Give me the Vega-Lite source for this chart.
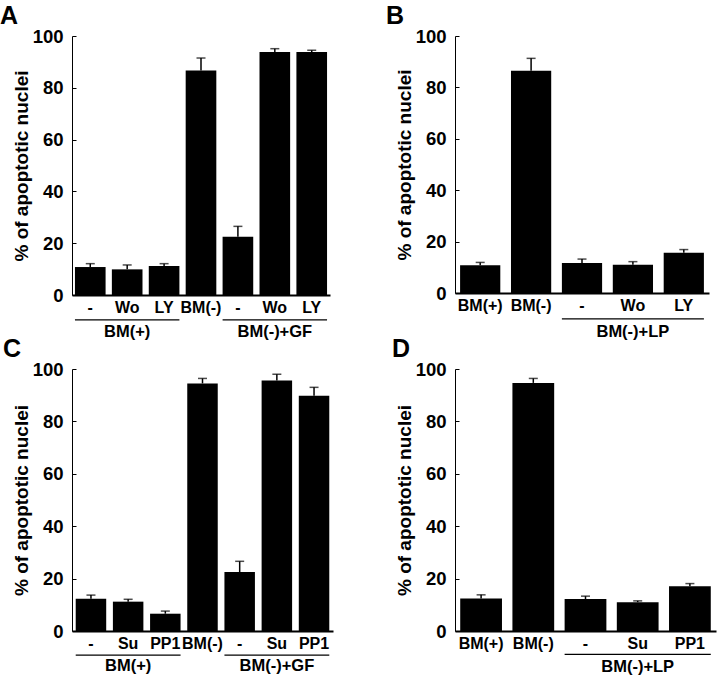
{
  "$schema": "https://vega.github.io/schema/vega-lite/v6.json",
  "background": "white",
  "padding": {"left": 0, "top": 4, "right": 5, "bottom": 5},
  "columns": 2,
  "spacing": {"row": 74, "column": 122},
  "bounds": "flush",
  "datasets": {
    "bars": [
      {"panel": "A", "key": "1|-", "value": 10.8, "upper": 12.1},
      {"panel": "A", "key": "2|Wo", "value": 9.9, "upper": 11.6},
      {"panel": "A", "key": "3|LY", "value": 11.2, "upper": 12.1},
      {"panel": "A", "key": "4|BM(-)", "value": 86.7, "upper": 91.5},
      {"panel": "A", "key": "5|-", "value": 22.5, "upper": 26.5},
      {"panel": "A", "key": "6|Wo", "value": 93.8, "upper": 95.1},
      {"panel": "A", "key": "7|LY", "value": 93.8, "upper": 94.5},
      {"panel": "B", "key": "1|BM(+)", "value": 10.8, "upper": 11.9},
      {"panel": "B", "key": "2|BM(-)", "value": 86.5, "upper": 91.3},
      {"panel": "B", "key": "3|-", "value": 11.7, "upper": 13.2},
      {"panel": "B", "key": "4|Wo", "value": 11.0, "upper": 12.2},
      {"panel": "B", "key": "5|LY", "value": 15.7, "upper": 16.9},
      {"panel": "C", "key": "1|-", "value": 12.3, "upper": 13.7},
      {"panel": "C", "key": "2|Su", "value": 11.2, "upper": 12.1},
      {"panel": "C", "key": "3|PP1", "value": 6.6, "upper": 7.6},
      {"panel": "C", "key": "4|BM(-)", "value": 94.5, "upper": 96.4},
      {"panel": "C", "key": "5|-", "value": 22.5, "upper": 26.6},
      {"panel": "C", "key": "6|Su", "value": 95.6, "upper": 98.0},
      {"panel": "C", "key": "7|PP1", "value": 89.8, "upper": 93.0},
      {"panel": "D", "key": "1|BM(+)", "value": 12.4, "upper": 13.8},
      {"panel": "D", "key": "2|BM(-)", "value": 94.7, "upper": 96.4},
      {"panel": "D", "key": "3|-", "value": 12.2, "upper": 13.3},
      {"panel": "D", "key": "4|Su", "value": 11.0, "upper": 11.5},
      {"panel": "D", "key": "5|PP1", "value": 17.1, "upper": 18.1}
    ],
    "groups": [
      {"panel": "A", "group": "BM(+)", "from": "1|-", "to": "3|LY", "mid": "2|Wo"},
      {"panel": "A", "group": "BM(-)+GF", "from": "5|-", "to": "7|LY", "mid": "6|Wo"},
      {"panel": "B", "group": "BM(-)+LP", "from": "3|-", "to": "5|LY", "mid": "4|Wo"},
      {"panel": "C", "group": "BM(+)", "from": "1|-", "to": "3|PP1", "mid": "2|Su"},
      {"panel": "C", "group": "BM(-)+GF", "from": "5|-", "to": "7|PP1", "mid": "6|Su"},
      {"panel": "D", "group": "BM(-)+LP", "from": "3|-", "to": "5|PP1", "mid": "4|Su"}
    ]
  },
  "concat": [
    {
      "width": 258, "height": 259,
      "title": {"text": "A", "dx": -72},
      "layer": [
        {
          "data": {"name": "bars"},
          "transform": [{"filter": "datum.panel === 'A'"}],
          "mark": {"type": "bar", "color": "black"},
          "encoding": {
            "x": {"field": "key", "type": "nominal", "scale": {"paddingInner": 0.17, "paddingOuter": 0.08}, "axis": {"labelExpr": "split(datum.value, '|')[1]"}},
            "y": {"field": "value", "type": "quantitative", "scale": {"domain": [0, 100], "nice": false}, "title": "% of apoptotic nuclei"}
          }
        },
        {
          "data": {"name": "bars"},
          "transform": [{"filter": "datum.panel === 'A'"}],
          "mark": {"type": "rule", "color": "black", "strokeWidth": 1.5},
          "encoding": {"x": {"field": "key", "type": "nominal"}, "y": {"field": "value", "type": "quantitative"}, "y2": {"field": "upper"}}
        },
        {
          "data": {"name": "bars"},
          "transform": [{"filter": "datum.panel === 'A'"}],
          "mark": {"type": "tick", "color": "black", "size": 9, "thickness": 1.5},
          "encoding": {"x": {"field": "key", "type": "nominal"}, "y": {"field": "upper", "type": "quantitative"}}
        },
        {
          "data": {"name": "groups"},
          "transform": [{"filter": "datum.panel === 'A'"}],
          "mark": {"type": "rule", "color": "black", "strokeWidth": 1.2},
          "encoding": {"x": {"field": "from", "type": "nominal", "bandPosition": 0}, "x2": {"field": "to", "bandPosition": 1}, "y": {"datum": -9.6}}
        },
        {
          "data": {"name": "groups"},
          "transform": [{"filter": "datum.panel === 'A'"}],
          "mark": {"type": "text", "color": "black", "fontSize": 16.5, "fontWeight": "bold", "baseline": "middle"},
          "encoding": {"x": {"field": "mid", "type": "nominal"}, "y": {"datum": -14.2}, "text": {"field": "group"}}
        }
      ]
    },
    {
      "width": 254, "height": 257,
      "title": {"text": "B", "dx": -69},
      "layer": [
        {
          "data": {"name": "bars"},
          "transform": [{"filter": "datum.panel === 'B'"}],
          "mark": {"type": "bar", "color": "black"},
          "encoding": {
            "x": {"field": "key", "type": "nominal", "scale": {"paddingInner": 0.21, "paddingOuter": 0.1}, "axis": {"labelExpr": "split(datum.value, '|')[1]"}},
            "y": {"field": "value", "type": "quantitative", "scale": {"domain": [0, 100], "nice": false}, "title": "% of apoptotic nuclei"}
          }
        },
        {
          "data": {"name": "bars"},
          "transform": [{"filter": "datum.panel === 'B'"}],
          "mark": {"type": "rule", "color": "black", "strokeWidth": 1.5},
          "encoding": {"x": {"field": "key", "type": "nominal"}, "y": {"field": "value", "type": "quantitative"}, "y2": {"field": "upper"}}
        },
        {
          "data": {"name": "bars"},
          "transform": [{"filter": "datum.panel === 'B'"}],
          "mark": {"type": "tick", "color": "black", "size": 9, "thickness": 1.5},
          "encoding": {"x": {"field": "key", "type": "nominal"}, "y": {"field": "upper", "type": "quantitative"}}
        },
        {
          "data": {"name": "groups"},
          "transform": [{"filter": "datum.panel === 'B'"}],
          "mark": {"type": "rule", "color": "black", "strokeWidth": 1.2},
          "encoding": {"x": {"field": "from", "type": "nominal", "bandPosition": 0}, "x2": {"field": "to", "bandPosition": 1}, "y": {"datum": -10.1}}
        },
        {
          "data": {"name": "groups"},
          "transform": [{"filter": "datum.panel === 'B'"}],
          "mark": {"type": "text", "color": "black", "fontSize": 16.5, "fontWeight": "bold", "baseline": "middle"},
          "encoding": {"x": {"field": "mid", "type": "nominal"}, "y": {"datum": -15.0}, "text": {"field": "group"}}
        }
      ]
    },
    {
      "width": 261, "height": 262,
      "title": {"text": "C", "dx": -69},
      "layer": [
        {
          "data": {"name": "bars"},
          "transform": [{"filter": "datum.panel === 'C'"}],
          "mark": {"type": "bar", "color": "black"},
          "encoding": {
            "x": {"field": "key", "type": "nominal", "scale": {"paddingInner": 0.18, "paddingOuter": 0.1}, "axis": {"labelExpr": "split(datum.value, '|')[1]"}},
            "y": {"field": "value", "type": "quantitative", "scale": {"domain": [0, 100], "nice": false}, "title": "% of apoptotic nuclei"}
          }
        },
        {
          "data": {"name": "bars"},
          "transform": [{"filter": "datum.panel === 'C'"}],
          "mark": {"type": "rule", "color": "black", "strokeWidth": 1.5},
          "encoding": {"x": {"field": "key", "type": "nominal"}, "y": {"field": "value", "type": "quantitative"}, "y2": {"field": "upper"}}
        },
        {
          "data": {"name": "bars"},
          "transform": [{"filter": "datum.panel === 'C'"}],
          "mark": {"type": "tick", "color": "black", "size": 9, "thickness": 1.5},
          "encoding": {"x": {"field": "key", "type": "nominal"}, "y": {"field": "upper", "type": "quantitative"}}
        },
        {
          "data": {"name": "groups"},
          "transform": [{"filter": "datum.panel === 'C'"}],
          "mark": {"type": "rule", "color": "black", "strokeWidth": 1.2},
          "encoding": {"x": {"field": "from", "type": "nominal", "bandPosition": 0}, "x2": {"field": "to", "bandPosition": 1}, "y": {"datum": -9.2}}
        },
        {
          "data": {"name": "groups"},
          "transform": [{"filter": "datum.panel === 'C'"}],
          "mark": {"type": "text", "color": "black", "fontSize": 16.5, "fontWeight": "bold", "baseline": "middle"},
          "encoding": {"x": {"field": "mid", "type": "nominal"}, "y": {"datum": -13.5}, "text": {"field": "group"}}
        }
      ]
    },
    {
      "width": 261, "height": 262,
      "title": {"text": "D", "dx": -63},
      "layer": [
        {
          "data": {"name": "bars"},
          "transform": [{"filter": "datum.panel === 'D'"}],
          "mark": {"type": "bar", "color": "black"},
          "encoding": {
            "x": {"field": "key", "type": "nominal", "scale": {"paddingInner": 0.2, "paddingOuter": 0.1}, "axis": {"labelExpr": "split(datum.value, '|')[1]"}},
            "y": {"field": "value", "type": "quantitative", "scale": {"domain": [0, 100], "nice": false}, "title": "% of apoptotic nuclei"}
          }
        },
        {
          "data": {"name": "bars"},
          "transform": [{"filter": "datum.panel === 'D'"}],
          "mark": {"type": "rule", "color": "black", "strokeWidth": 1.5},
          "encoding": {"x": {"field": "key", "type": "nominal"}, "y": {"field": "value", "type": "quantitative"}, "y2": {"field": "upper"}}
        },
        {
          "data": {"name": "bars"},
          "transform": [{"filter": "datum.panel === 'D'"}],
          "mark": {"type": "tick", "color": "black", "size": 9, "thickness": 1.5},
          "encoding": {"x": {"field": "key", "type": "nominal"}, "y": {"field": "upper", "type": "quantitative"}}
        },
        {
          "data": {"name": "groups"},
          "transform": [{"filter": "datum.panel === 'D'"}],
          "mark": {"type": "rule", "color": "black", "strokeWidth": 1.2},
          "encoding": {"x": {"field": "from", "type": "nominal", "bandPosition": 0}, "x2": {"field": "to", "bandPosition": 1}, "y": {"datum": -8.9}}
        },
        {
          "data": {"name": "groups"},
          "transform": [{"filter": "datum.panel === 'D'"}],
          "mark": {"type": "text", "color": "black", "fontSize": 16.5, "fontWeight": "bold", "baseline": "middle"},
          "encoding": {"x": {"field": "mid", "type": "nominal"}, "y": {"datum": -13.7}, "text": {"field": "group"}}
        }
      ]
    }
  ],
  "config": {
    "font": "Liberation Sans",
    "view": {"stroke": null},
    "title": {"anchor": "start", "frame": "group", "fontSize": 25, "fontWeight": "bold", "color": "black", "baseline": "alphabetic", "offset": -2},
    "axis": {"grid": false, "domainColor": "black", "tickColor": "black", "labelColor": "black", "titleColor": "black", "labelFont": "Liberation Sans", "titleFont": "Liberation Sans", "labelFontWeight": "bold", "titleFontWeight": "bold"},
    "axisX": {"title": null, "labelAngle": 0, "ticks": false, "domainWidth": 2, "labelFontSize": 16, "labelPadding": 4},
    "axisY": {"values": [0, 20, 40, 60, 80, 100], "labelFontSize": 18.5, "tickSize": -4, "labelPadding": 13, "titleFontSize": 19, "titlePadding": 1, "domainWidth": 1}
  }
}
